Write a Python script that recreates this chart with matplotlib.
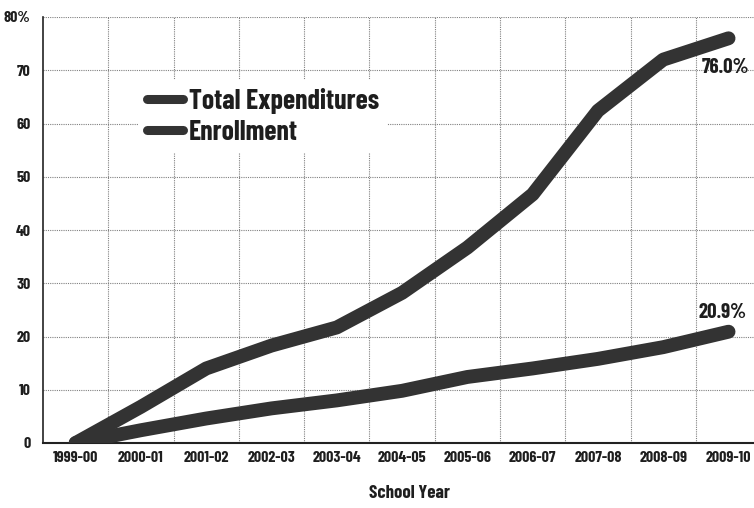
import matplotlib
matplotlib.use("Agg")
import matplotlib.pyplot as plt
from matplotlib.ticker import FixedLocator

years = ["1999-00", "2000-01", "2001-02", "2002-03", "2003-04", "2004-05",
         "2005-06", "2006-07", "2007-08", "2008-09", "2009-10"]
total_expenditures = [0, 6.8, 14.0, 18.3, 21.7, 28.2, 36.7, 46.7, 62.4, 72.0, 76.0]
enrollment = [0, 2.4, 4.6, 6.5, 8.0, 9.8, 12.4, 14.0, 15.8, 18.0, 20.9]
y_ticks = [0, 10, 20, 30, 40, 50, 60, 70, 80]
y_tick_labels = ["0", "10", "20", "30", "40", "50", "60", "70", "80%"]

FONT = ["Barlow Condensed", "DejaVu Sans"]
plt.rcParams['font.family'] = FONT
LINE_COLOR = "#333333"
TEXT_COLOR = "#1e1e1e"

fig = plt.figure(figsize=(7.54, 5.08), dpi=100)
ax = fig.add_axes([43/754, 65/508, (754-43)/754, 426/508])

x = list(range(len(years)))
ax.plot(x, total_expenditures, color=LINE_COLOR, lw=10, solid_capstyle='round',
        solid_joinstyle='round', label="Total Expenditures", zorder=3)
ax.plot(x, enrollment, color=LINE_COLOR, lw=10, solid_capstyle='round',
        solid_joinstyle='round', label="Enrollment", zorder=3)

ax.set_xlim(-0.5, 10.39)
ax.set_ylim(0, 80)
ax.set_xticks(x)
ax.set_xticklabels(years, fontsize=11.5, fontweight='bold', color=TEXT_COLOR)
ax.set_yticks(y_ticks)
ax.set_yticklabels(y_tick_labels, fontsize=11.5, fontweight='bold', color=TEXT_COLOR)
ax.xaxis.set_minor_locator(FixedLocator([i + 0.5 for i in range(10)]))
ax.tick_params(axis='both', which='both', length=0)
ax.tick_params(axis='x', pad=6)
ax.tick_params(axis='y', pad=9)

ax.grid(True, which='minor', axis='x', color="#808080", lw=0.8, ls=(0, (1, 1)))
ax.grid(True, which='major', axis='y', color="#808080", lw=0.8, ls=(0, (1, 1)))
ax.grid(False, which='major', axis='x')

for side in ['top', 'right']:
    ax.spines[side].set_visible(False)
ax.spines['left'].set_color("#222222")
ax.spines['bottom'].set_color("#222222")
ax.spines['left'].set_linewidth(1.2)
ax.spines['bottom'].set_linewidth(1.5)

ax.set_xlabel("School Year", fontsize=13.5, fontweight='bold', color=TEXT_COLOR)
ax.xaxis.set_label_coords((409 - 43) / 711, -42 / 426)

leg = ax.legend(loc='upper left', bbox_to_anchor=(0.115, 0.885), frameon=True,
                facecolor='white', edgecolor='none', framealpha=1,
                prop={'family': FONT, 'weight': 'bold', 'size': 20},
                handlelength=1.3, handletextpad=0.2, labelspacing=0.2,
                borderpad=0.3)
for h in leg.get_lines():
    h.set_linewidth(6.5)
for t in leg.get_texts():
    t.set_color(TEXT_COLOR)

ax.annotate(f"{total_expenditures[-1]:.1f}%", xy=(x[-1], total_expenditures[-1]),
            xytext=(-2, -14), textcoords='offset points', ha='center', va='top',
            fontsize=15, fontweight='bold', color=TEXT_COLOR)
ax.annotate(f"{enrollment[-1]:.1f}%", xy=(x[-1], enrollment[-1]),
            xytext=(-4, 7), textcoords='offset points', ha='center', va='bottom',
            fontsize=15, fontweight='bold', color=TEXT_COLOR)

fig.savefig("out.png", dpi=100)
